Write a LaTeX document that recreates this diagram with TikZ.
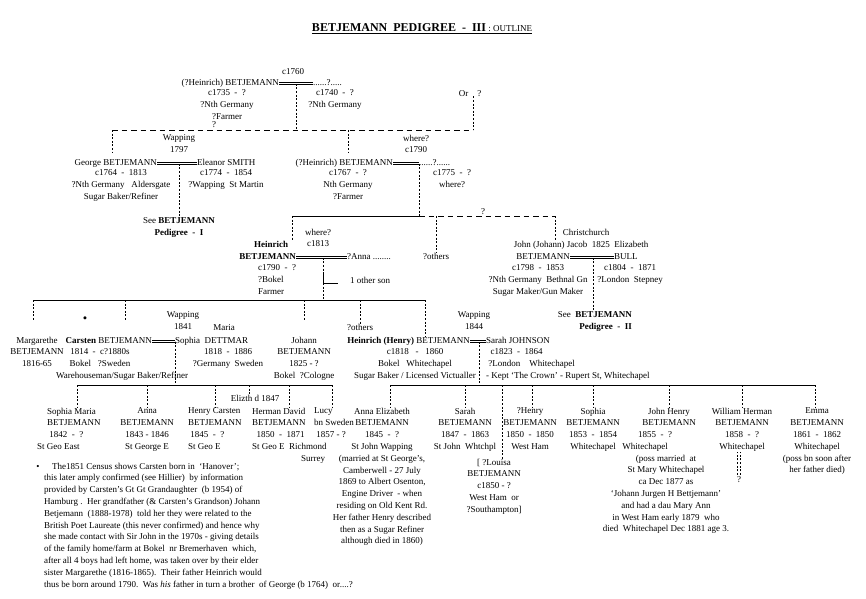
\documentclass[tikz,border=0pt]{standalone}
\usepackage{fontspec}
\setmainfont{Liberation Serif}

\tikzset{
  every node/.style={inner sep=0pt, font=\fontsize{9}{11.8}\selectfont},
  blk/.style={anchor=north, align=center},
  lblk/.style={anchor=north west, align=left},
  nm/.style={text height=6.3pt, text depth=2pt},
  tick/.style={dash pattern=on 2pt off 1.6pt, line width=0.45pt},
  doubt/.style={dash pattern=on 5.5pt off 4pt, line width=0.55pt},
  marry/.style={line width=0.45pt},
  kin/.style={line width=0.7pt}
}

\begin{document}
\begin{tikzpicture}[x=1pt, y=-1pt]
    \useasboundingbox (0,0) rectangle (866,598);

    % title
    \node[anchor=base] (title) at (422,31) {\fontsize{12}{14}\selectfont\bfseries BETJEMANN~~PEDIGREE~~-~~III\fontsize{9}{11}\selectfont\mdseries~:~OUTLINE};
    \draw[line width=0.6pt] ([yshift=-1.8pt]title.base west) -- ([yshift=-1.8pt]title.base east);

    % c1760 couple
    \node[anchor=base] (c1760) at (293,74) {c1760};
    \node[nm, anchor=base east] (h0) at (279,85) {(?Heinrich) BETJEMANN};
    \node[nm, anchor=base west] (w0) at (313,85) {......?.....};
    \draw[marry] ([yshift=0.9pt]h0.east) -- ([yshift=0.9pt]w0.west) ([yshift=-0.9pt]h0.east) -- ([yshift=-0.9pt]w0.west);
    \node[blk] (h0d) at (227,89.7) {c1735~~-~~?\\?Nth Germany\\?Farmer};
    \node[blk] (w0d) at (335,89.7) {c1740~~-~~?\\?Nth Germany};
    \node[anchor=base] (q0) at (214,127) {?};
    \node[anchor=base] (orq) at (470,96) {Or~~~~?};

    % George and Eleanor
    \node[blk] (wap97) at (179,134.7) {Wapping\\1797};
    \node[nm, anchor=base east] (george) at (157,165) {George BETJEMANN};
    \node[nm, anchor=base west] (eleanor) at (197,165) {Eleanor SMITH};
    \draw[marry] ([yshift=0.9pt]george.east) -- ([yshift=0.9pt]eleanor.west) ([yshift=-0.9pt]george.east) -- ([yshift=-0.9pt]eleanor.west);
    \node[blk] (georged) at (121,169.7) {c1764~~-~~1813\\?Nth Germany~~~Aldersgate\\Sugar Baker/Refiner};
    \node[blk] (eleanord) at (226,169.7) {c1774~~-~~1854\\?Wapping~~St Martin};
    \node[blk] (see1) at (179,217.7) {See \textbf{BETJEMANN}\\\textbf{Pedigree~~-~~I}};
    \draw[tick] ([yshift=-0.9pt]see1.north |- george) -- (see1.north);

    % (?Heinrich) c1767
    \node[blk] (wh90) at (416,134.7) {where?\\c1790};
    \node[nm, anchor=base east] (h1) at (393,165) {(?Heinrich) BETJEMANN};
    \node[nm, anchor=base west] (w1) at (419,165) {......?......};
    \draw[marry] ([yshift=0.9pt]h1.east) -- ([yshift=0.9pt]w1.west) ([yshift=-0.9pt]h1.east) -- ([yshift=-0.9pt]w1.west);
    \node[blk] (h1d) at (348,169.7) {c1767~~-~~?\\Nth Germany\\?Farmer};
    \node[blk] (w1d) at (452,169.7) {c1775~~-~~?\\where?};

    % first uncertain link
    \coordinate (lt) at (112,130);
    \coordinate (rt) at (473,130);
    \coordinate (m0) at (296,130);
    \draw[tick] ([yshift=-0.9pt]m0 |- h0) -- (m0);
    \draw[doubt] (lt) -- (rt);
    \draw[tick] (rt |- orq.south) -- (rt);
    \draw[tick] (lt) -- (lt |- wap97.south);
    \draw[tick] (h1d.north |- lt) -- (h1d.north |- wh90.south);

    % Heinrich c1790
    \node[blk] (wh13) at (318,228.7) {where?\\c1813};
    \node[nm, anchor=base] (heinrich) at (271,247) {\textbf{Heinrich}};
    \node[nm, anchor=base east] (h2) at (296,259) {\textbf{BETJEMANN}};
    \node[nm, anchor=base west] (anna0) at (347,259) {?Anna ........};
    \draw[marry] ([yshift=0.9pt]h2.east) -- ([yshift=0.9pt]anna0.west) ([yshift=-0.9pt]h2.east) -- ([yshift=-0.9pt]anna0.west);
    \node[lblk] (h2d) at (258,264.7) {c1790~~-~~?\\?Bokel\\Farmer};
    \node[anchor=base west] (oson) at (350,283) {1 other son};
    \node[anchor=base] (oth2) at (436,259) {?others};

    % John (Johann) Jacob
    \node[anchor=base] (cc) at (586,235) {Christchurch};
    \node[anchor=base] (jj) at (581,247) {John (Johann) Jacob~~1825~~Elizabeth};
    \node[nm, anchor=base east] (h3) at (570,259) {BETJEMANN};
    \node[nm, anchor=base west] (bull) at (614,259) {BULL};
    \draw[marry] ([yshift=0.9pt]h3.east) -- ([yshift=0.9pt]bull.west) ([yshift=-0.9pt]h3.east) -- ([yshift=-0.9pt]bull.west);
    \node[blk] (h3d) at (538,264.7) {c1798~~-~~1853\\?Nth Germany~~Bethnal Gn\\Sugar Maker/Gun Maker};
    \node[blk] (bulld) at (630,264.7) {c1804~~-~~1871\\?London~~Stepney};
    \node[blk, align=right, anchor=north east] (see2) at (632,311.7) {See~~\textbf{BETJEMANN}\\\textbf{Pedigree~~-~~II}};

    % second link
    \coordinate (m1) at (419,216);
    \coordinate (hl) at (292,216);
    \coordinate (hr) at (555,216);
    \draw[tick] ([yshift=-0.9pt]m1 |- h1) -- (m1);
    \draw[kin] (m1) -- (hl);
    \draw[doubt] (m1) -- (hr);
    \node[anchor=base] (q1) at (483,214) {?};
    \draw[tick] (hl) -- (hl |- heinrich.north);
    \draw[tick] (oth2.north |- m1) -- (oth2.north);
    \draw[tick] (hr) -- (hr |- jj.north);
    \coordinate (m3) at (593,300);
    \draw[tick] ([yshift=-0.9pt]m3 |- h3) -- (m3 |- see2.north);

    % children of Heinrich
    \coordinate (bl) at (33,300);
    \coordinate (br) at (425,300);
    \coordinate (m2) at (323,300);
    \coordinate (kc) at (125,300);
    \draw[kin] (bl) -- (br);
    \draw[tick] ([yshift=-0.9pt]m2 |- h2) -- (m2);
    \draw[kin] ([yshift=10pt]m2 |- oson.base) -- (m2 |- oson.base) -- ([xshift=-12pt]oson.base west);

    \node[blk] (marg) at (37,336.7) {Margarethe\\BETJEMANN\\1816-65};
    \node[scale=1.4] (star) at (85,320) {\textbullet};
    \node[blk] (wap41) at (183,311.7) {Wapping\\1841};
    \node[anchor=base] (maria) at (224,330) {Maria};
    \node[nm, anchor=base east] (carsten) at (152,343) {\textbf{Carsten} BETJEMANN};
    \node[nm, anchor=base west] (sophia) at (175,343) {Sophia~~DETTMAR};
    \draw[marry] ([yshift=0.9pt]carsten.east) -- ([yshift=0.9pt]sophia.west) ([yshift=-0.9pt]carsten.east) -- ([yshift=-0.9pt]sophia.west);
    \node[blk] (carstend) at (100,348.7) {1814~~-~~c?1880s\\Bokel~~~?Sweden};
    \node[anchor=base] (carstenw) at (122,378) {Warehouseman/Sugar Baker/Refiner};
    \node[blk] (sophiad) at (228,348.7) {1818~~-~~1886\\?Germany~~Sweden};
    \node[blk] (johann) at (304,336.7) {Johann\\BETJEMANN\\1825~-~?\\Bokel~~?Cologne};
    \node[anchor=base] (oth3) at (360,330) {?others};

    \node[blk] (wap44) at (474,311.7) {Wapping\\1844};
    \node[nm, anchor=base east] (henry) at (470,343) {\textbf{Heinrich (Henry)} BETJEMANN};
    \node[nm, anchor=base west] (sarah) at (486,343) {Sarah JOHNSON};
    \draw[marry] ([yshift=0.9pt]henry.east) -- ([yshift=0.9pt]sarah.west) ([yshift=-0.9pt]henry.east) -- ([yshift=-0.9pt]sarah.west);
    \node[blk] (henryd) at (415,348.7) {c1818~~~-~~~1860\\Bokel~~~Whitechapel\\Sugar Baker / Licensed Victualler};
    \node[lblk] (sarahd) at (486,348.7) {~~c1823~~-~~1864\\~?London~~~~Whitechapel\\- Kept `The Crown' - Rupert St, Whitechapel};

    \draw[tick] (bl) -- (bl |- star);
    \draw[tick] (kc) -- (kc |- star);
    \draw[tick] (johann.north |- bl) -- (johann.north |- star);
    \draw[tick] (oth3.north |- bl) -- (oth3.north);
    \draw[tick] (br) -- (br |- henry.north);

    % children of Carsten
    \coordinate (m4) at (175,385);
    \coordinate (cl) at (77,385);
    \coordinate (cr) at (332,385);
    \draw[tick] ([yshift=-0.9pt]m4 |- carsten) -- (m4);
    \draw[kin] (cl) -- (cr);
    \node[lblk] (sophm) at (47,407.7) {Sophia Maria\\BETJEMANN\\~1842~~-~~?};
    \node[anchor=base west] (sophmp) at (37,449) {St Geo East};
    \node[blk] (anna1) at (147,407.7) {Anna\\BETJEMANN\\1843 - 1846\\St George E};
    \node[lblk] (henc) at (188,407.7) {Henry Carsten\\BETJEMANN\\~1845~~-~~?\\St Geo E};
    \node[anchor=base] (eliz) at (255,401) {Elizth d 1847};
    \node[lblk] (herm) at (252,407.7) {Herman David\\BETJEMANN\\~~1850~~-~~1871\\St Geo E~~Richmond};
    \node[anchor=base] (surrey) at (313,461) {Surrey};
    \node[lblk] (lucy) at (314,407.7) {Lucy\\bn Sweden\\~1857 - ?};
    \draw[tick] (cl) -- (cl |- sophm.north);
    \draw[tick] (anna1.north |- cl) -- (anna1.north);
    \draw[tick] (henc.north |- cl) -- (henc.north);
    \draw[tick] ([xshift=-6pt]eliz.north |- cl) -- ([xshift=-6pt]eliz.north);
    \draw[tick] (herm.north |- cl) -- (herm.north);
    \draw[tick] (cr) -- (cr |- lucy.north);

    % children of Heinrich (Henry)
    \coordinate (m5) at (479,385);
    \coordinate (rl) at (390,385);
    \coordinate (rr) at (815,385);
    \draw[tick] ([yshift=-0.9pt]m5 |- henry) -- (m5);
    \draw[kin] (rl) -- (rr);
    \node[blk] (annae) at (382,407.7) {Anna Elizabeth\\BETJEMANN\\1845~~-~~?\\St John Wapping\\(married at St George's,\\Camberwell - 27 July\\1869 to Albert Osenton,\\Engine Driver~~- when\\residing on Old Kent Rd.\\Her father Henry described\\then as a Sugar Refiner\\although died in 1860)};
    \node[blk] (sarah1) at (465,407.7) {Sarah\\BETJEMANN\\1847~~-~~1863\\St John~~Whtchpl};
    \node[blk] (louisa) at (494,458.7) {[~?Louisa\\BETJEMANN\\c1850 - ?\\West Ham~~or\\?Southampton]};
    \node[blk] (henry1) at (530,407.7) {?Henry\\BETJEMANN\\1850~~-~~1850\\West Ham};
    \node[blk] (sophia1) at (593,407.7) {Sophia\\BETJEMANN\\1853~~-~~1854\\Whitechapel};
    \node[blk] (john) at (669,407.7) {John Henry\\BETJEMANN};
    \node[anchor=base] (johnd) at (655,437) {1855~~-~~?};
    \node[anchor=base] (johnp) at (645,449) {Whitechapel};
    \node[blk] (johnn) at (666,454.7) {(poss married~~at\\St Mary Whitechapel\\ca Dec 1877 as\\`Johann Jurgen H Bettjemann'\\and had a dau Mary Ann\\in West Ham early 1879~~who\\died~~Whitechapel Dec 1881 age 3.};
    \node[blk] (will) at (742,407.7) {William Herman\\BETJEMANN\\1858~~-~~?\\Whitechapel};
    \node[anchor=base] (willq) at (739,482) {?};
    \node[blk] (emma) at (817,407.7) {Emma\\BETJEMANN\\1861~~-~~1862\\Whitechapel\\(poss bn soon after\\her father died)};
    \draw[tick] (rl) -- (rl |- annae.north);
    \draw[tick] (sarah1.north |- rl) -- (sarah1.north);
    \draw[tick] ([xshift=8pt]louisa.north |- rl) -- ([xshift=8pt]louisa.north);
    \draw[tick] ([xshift=2pt]henry1.north |- rl) -- ([xshift=2pt]henry1.north);
    \draw[tick] (sophia1.north |- rl) -- (sophia1.north);
    \draw[tick] (john.north |- rl) -- (john.north);
    \draw[tick] (will.north |- rl) -- (will.north);
    \draw[tick, shorten <=1pt] ([xshift=-1.5pt]willq.north) -- ([xshift=-1.5pt]willq.north |- will.south);
    \draw[tick, shorten <=1pt] ([xshift=1.5pt]willq.north) -- ([xshift=1.5pt]willq.north |- will.south);
    \draw[tick] (rr) -- (rr |- emma.north);

    % footnote
    \node[anchor=base] (bul) at (38,469) {\textbullet};
    \node[lblk] (note) at (44,462.7) {\hspace*{8pt}The1851 Census shows Carsten born in~~`Hanover';\\
      this later amply confirmed (see Hillier)~~by information\\
      provided by Carsten's Gt Gt Grandaughter~~(b 1954) of\\
      Hamburg .~~Her grandfather (\& Carsten's Grandson) Johann\\
      Betjemann~~(1888-1978)~~told her they were related to the\\
      British Poet Laureate (this never confirmed) and hence why\\
      she made contact with Sir John in the 1970s - giving details\\
      of the family home/farm at Bokel~~nr Bremerhaven~~which,\\
      after all 4 boys had left home, was taken over by their elder\\
      sister Margarethe (1816-1865).~~Their father Heinrich would\\
      thus be born around 1790.~~Was \textit{his} father in turn a brother~~of George (b 1764)~~or....?};
\end{tikzpicture}
\end{document}
